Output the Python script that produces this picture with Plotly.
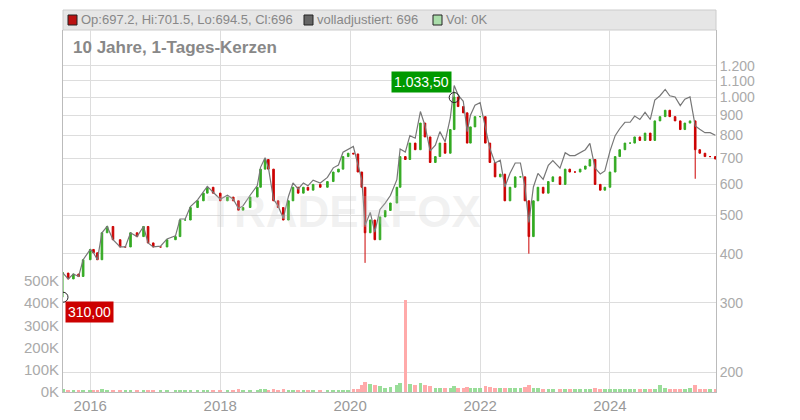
import plotly.graph_objects as go
import pandas as pd
import math

# decimal years of samples
years = [2015.58,2015.66,2015.74,2015.82,2015.89,
 2016.00,2016.05,2016.11,2016.18,2016.26,2016.35,2016.46,2016.54,2016.62,2016.72,2016.82,2016.89,2016.97,
 2017.08,2017.18,2017.31,2017.38,2017.46,2017.54,2017.65,2017.74,2017.80,2017.89,
 2018.00,2018.11,2018.20,2018.28,2018.35,2018.46,2018.57,2018.62,2018.69,2018.74,2018.82,2018.89,2018.97,
 2019.05,2019.12,2019.20,2019.28,2019.35,2019.43,2019.54,2019.65,2019.74,2019.82,2019.89,2019.97,
 2020.05,2020.12,2020.18,2020.23,2020.31,2020.38,2020.46,2020.54,2020.62,2020.72,2020.77,2020.85,2020.92,
 2021.00,2021.08,2021.15,2021.23,2021.31,2021.38,2021.46,2021.54,2021.60,2021.66,2021.74,2021.80,2021.85,2021.92,
 2022.00,2022.08,2022.15,2022.23,2022.31,2022.38,2022.46,2022.54,2022.62,2022.69,2022.75,2022.82,2022.89,2022.97,
 2023.05,2023.12,2023.23,2023.31,2023.38,2023.46,2023.54,2023.62,2023.69,2023.77,2023.85,2023.92,
 2024.00,2024.08,2024.15,2024.23,2024.31,2024.38,2024.46,2024.54,2024.62,2024.69,2024.77,2024.85,2024.92,
 2025.00,2025.08,2025.15,2025.23,2025.31,2025.38,2025.46,2025.54,2025.62]

close = [357,345,355,350,386,
 410,402,386,452,469,434,416,416,452,442,469,426,416,
 416,434,442,487,487,524,545,570,590,570,
 545,557,545,516,524,557,590,656,694,656,545,524,487,
 545,590,570,590,580,600,590,610,645,656,706,720,
 717,645,590,452,487,434,496,515,538,590,706,694,764,
 735,859,792,682,706,764,720,827,1000,946,912,764,840,892,
 892,764,682,627,637,545,590,627,627,545,442,545,590,570,
 610,627,600,656,645,645,656,668,694,600,580,590,
 645,706,735,764,764,792,776,810,776,870,892,926,892,
 870,827,859,870,735,720,706,706,696]

adjusted = [357,345,355,350,386,
 410,402,386,452,469,434,416,416,452,442,469,426,416,
 418,436,444,490,490,527,548,573,593,573,
 550,563,550,521,529,563,596,663,701,663,550,529,492,
 559,605,584,605,595,615,605,625,661,672,724,738,
 749,674,617,472,509,454,518,538,562,617,738,725,798,
 786,919,847,730,755,817,770,885,1070,1012,976,817,899,954,
 968,829,740,680,691,591,640,680,680,591,480,591,640,618,
 671,690,660,722,710,710,722,735,763,660,638,649,
 729,798,831,863,863,895,877,915,877,983,1008,1046,1008,
 1001,951,988,1001,845,828,812,812,800]

volume = [12,10,10,9,10, 10,9,10,12,9,10,9,9,10,11,9,10,9,
 8,9,9,10,9,9,10,10,9,9, 10,9,10,12,9,9,10,14,12,10,12,10,14,
 10,9,10,9,10,10,9,9,10,10,9,9, 12,14,30,45,35,30,25,20,22,30,40,415,35,
 30,40,30,25,20,20,18,20,25,20,18,22,20,18, 20,25,22,20,18,20,18,20,18,22,30,20,18,15,
 15,14,15,14,15,14,14,15,14,18,15,14, 14,15,14,15,14,15,14,15,14,14,30,18,15,
 15,14,15,20,30,15,14,15,14]

# notable wick extremes (decimal year -> price)
wick_lows = {2015.58: 310.0, 2020.23: 379.0, 2022.75: 400.0, 2025.31: 620.0}
wick_highs = {2021.60: 1033.5}

def to_date(y):
    yr = int(y)
    return pd.Timestamp(yr, 1, 1) + pd.Timedelta(days=(y - yr) * 365.25)

dates = [to_date(y) for y in years]
opens = [close[0]] + close[:-1]
highs = [max(o, c) for o, c in zip(opens, close)]
lows = [min(o, c) for o, c in zip(opens, close)]
for i, y in enumerate(years):
    if y in wick_lows:
        lows[i] = wick_lows[y]
    if y in wick_highs:
        highs[i] = wick_highs[y]

GREEN = "#33aa22"
RED = "#cc0000"
vol_colors = ["#99dd99" if c >= o else "#ffaaaa" for o, c in zip(opens, close)]

fig = go.Figure()
fig.add_trace(go.Bar(x=dates, y=[v * 1000 for v in volume], marker_color=vol_colors,
                     marker_line_width=0, yaxis="y2", width=20 * 86400000, showlegend=False))
fig.add_trace(go.Scatter(x=dates, y=adjusted, mode="lines", line=dict(color="#777777", width=1.2),
                         showlegend=False))
fig.add_trace(go.Candlestick(x=dates, open=opens, high=highs, low=lows, close=close,
                             increasing=dict(line=dict(color=GREEN, width=1), fillcolor=GREEN),
                             decreasing=dict(line=dict(color=RED, width=1), fillcolor=RED),
                             whiskerwidth=0, showlegend=False))

i_hi = years.index(2021.60)
i_lo = years.index(2015.58)
fig.add_trace(go.Scatter(x=[dates[i_hi], dates[i_lo]], y=[wick_highs[2021.60] * 0.965, wick_lows[2015.58]],
                         mode="markers", marker=dict(symbol="circle-open", size=10, color="#222", line=dict(width=1)),
                         showlegend=False))

price_ticks = [200, 300, 400, 500, 600, 700, 800, 900, 1000, 1100, 1200]
price_labels = ["200", "300", "400", "500", "600", "700", "800", "900", "1.000", "1.100", "1.200"]
vol_ticks = [0, 100000, 200000, 300000, 400000, 500000]
vol_labels = ["0K", "100K", "200K", "300K", "400K", "500K"]

fig.update_layout(
    width=800, height=420, margin=dict(l=63, r=84, t=30, b=28),
    paper_bgcolor="white", plot_bgcolor="white",
    font=dict(family="Liberation Sans, Arial", color="#999999"),
    xaxis=dict(type="date", range=[to_date(2015.58), to_date(2025.63)], rangeslider=dict(visible=False),
               showgrid=True, gridcolor="#dddddd", tickvals=[pd.Timestamp(y, 1, 1) for y in [2016, 2018, 2020, 2022, 2024]],
               ticktext=["2016", "2018", "2020", "2022", "2024"], tickfont=dict(size=15, color="#999999"),
               showline=True, linecolor="#bbbbbb", ticks="", automargin=False),
    yaxis=dict(type="log", side="right", range=[math.log10(178), math.log10(1481)],
               tickvals=price_ticks, ticktext=price_labels, tickfont=dict(size=14, color="#aaaaaa"),
               showgrid=True, gridcolor="#dddddd", showline=True, linecolor="#bbbbbb", zeroline=False,
               automargin=False),
    yaxis2=dict(overlaying="y", side="left", range=[0, 1630000], tickvals=vol_ticks, ticktext=vol_labels,
                tickfont=dict(size=15, color="#aaaaaa"), showgrid=False, zeroline=False, showline=True,
                linecolor="#bbbbbb", automargin=False),
    bargap=0,
)

H = 362.0
W = 653.0
fig.add_shape(type="rect", xref="paper", yref="paper", x0=0, x1=1, y0=1.0, y1=1.0 + 20 / H,
              fillcolor="#e6e6e6", line=dict(color="#cccccc", width=1), layer="below")
hdr_y = 1.0 + 10 / H
def legend_item(xpx, color, text):
    fig.add_shape(type="rect", xref="paper", yref="paper",
                  x0=(xpx - 63) / W, x1=(xpx - 63 + 9) / W, y0=hdr_y - 5 / H, y1=hdr_y + 5 / H,
                  fillcolor=color, line=dict(color="#222", width=1))
    fig.add_annotation(xref="paper", yref="paper", x=(xpx - 63 + 11) / W, y=hdr_y, text=text,
                       showarrow=False, xanchor="left", yanchor="middle",
                       font=dict(size=13, color="#888888", family="Liberation Sans"))
legend_item(68, "#bb1111", "Op:697.2, Hi:701.5, Lo:694.5, Cl:696")
legend_item(304, "#666666", "volladjustiert: 696")
legend_item(433, "#aaddaa", "Vol: 0K")

fig.add_annotation(xref="paper", yref="paper", x=8 / W, y=1 - 17 / H, text="<b>10 Jahre, 1-Tages-Kerzen</b>",
                   showarrow=False, xanchor="left", yanchor="middle", font=dict(size=17, color="#888888"))
fig.add_annotation(xref="paper", yref="paper", x=0.43, y=0.5, text="<b>TRADERFOX</b>", showarrow=False,
                   font=dict(size=44, color="rgba(200,200,200,0.25)"))

fig.add_annotation(x=dates[i_hi], y=math.log10(1033.5), text="1.033,50", showarrow=False,
                   xanchor="right", yanchor="bottom", xshift=-2, yshift=-2, bgcolor="#009900",
                   font=dict(size=14, color="white"), borderpad=2)
fig.add_annotation(x=dates[i_lo], y=math.log10(310), text="310,00", showarrow=False,
                   xanchor="left", yanchor="top", xshift=2, yshift=-4, bgcolor="#cc0000",
                   font=dict(size=14, color="white"), borderpad=2)

fig.write_html("out.html", config={"displayModeBar": False},
               post_script="document.body.style.margin='0';document.body.style.overflow='hidden';")
